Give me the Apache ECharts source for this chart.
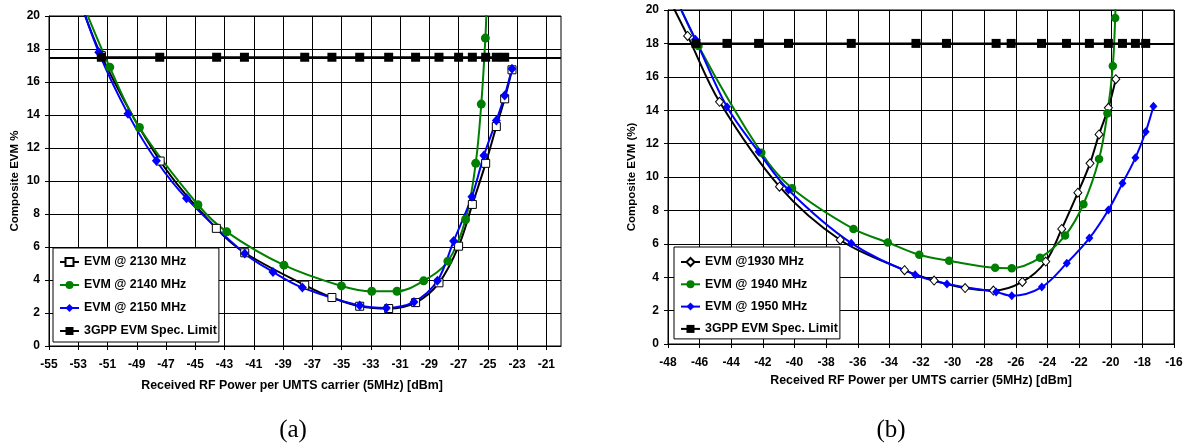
<!DOCTYPE html>
<html><head><meta charset="utf-8">
<script src="https://cdn.jsdelivr.net/npm/echarts@6/dist/echarts.min.js"></script>
<style>html,body{margin:0;padding:0;background:#fff}#c{width:1190px;height:445px}</style>
</head><body><div id="c"></div>
<script>
// ---- Chart (a) data ----
const xTicksA = [-55,-53,-51,-49,-47,-45,-43,-41,-39,-37,-35,-33,-31,-29,-27,-25,-23,-21];
const evm2130X = [-53.4,-51.42,-47.4,-43.56,-41.62,-37.52,-35.66,-33.76,-31.78,-29.94,-28.34,-27.0,-26.06,-25.15,-24.42,-23.85,-23.35];
const evm2130Y = [22.3,17.6,11.21,7.13,5.65,3.69,2.94,2.41,2.27,2.63,3.83,6.05,8.58,11.07,13.3,14.98,16.74];
const evm2140X = [-52.9,-50.85,-48.82,-44.82,-42.85,-38.94,-35.01,-32.94,-31.21,-29.39,-27.73,-26.52,-25.83,-25.45,-25.17,-25.05];
const evm2140Y = [21.2,16.9,13.24,8.56,6.92,4.9,3.64,3.32,3.32,3.95,5.14,7.67,11.07,14.66,18.66,21.5];
const evm2150X = [-53.5,-51.6,-49.6,-47.66,-45.6,-41.62,-39.69,-37.68,-33.76,-31.94,-30.05,-28.45,-27.34,-26.09,-25.27,-24.42,-23.85,-23.35];
const evm2150Y = [22.6,17.81,14.07,11.23,8.95,5.61,4.49,3.54,2.45,2.31,2.67,3.95,6.36,9.05,11.54,13.66,15.18,16.8];
const specAX = [-51.42,-47.43,-43.54,-41.64,-37.52,-35.66,-33.76,-31.78,-29.94,-28.34,-27.0,-26.06,-25.15,-24.42,-23.85];
const specALimit = 17.5;
// ---- Chart (b) data ----
const evm1930X = [-48.6,-46.76,-44.74,-40.95,-37.11,-33.04,-31.17,-29.21,-27.42,-25.59,-24.11,-23.1,-22.08,-21.31,-20.74,-20.15,-19.68];
const evm1930Y = [21.9,18.45,14.5,9.42,6.23,4.42,3.8,3.35,3.2,3.72,4.94,6.89,9.06,10.82,12.55,14.14,15.86];
const evm1940X = [-48.1,-46.07,-42.1,-40.16,-36.27,-34.1,-32.11,-30.22,-27.31,-26.26,-24.47,-22.89,-21.73,-20.74,-20.21,-19.87,-19.72,-19.68];
const evm1940Y = [22.1,17.85,11.45,9.33,6.89,6.08,5.34,4.98,4.56,4.54,5.16,6.49,8.37,11.08,13.81,16.65,19.52,21.5];
const evm1950X = [-48.2,-46.27,-44.27,-42.27,-40.38,-36.41,-32.37,-30.36,-27.25,-26.26,-24.36,-22.78,-21.35,-20.15,-19.26,-18.44,-17.79,-17.3];
const evm1950Y = [22.0,18.25,14.2,11.51,9.22,6.04,4.14,3.6,3.11,2.89,3.41,4.84,6.34,8.03,9.62,11.15,12.71,14.24];
const specBX = [-46.23,-44.27,-42.27,-40.38,-36.41,-32.32,-30.39,-27.25,-26.30,-24.38,-22.80,-21.35,-20.15,-19.26,-18.44,-17.79];
const specBLimit = 18;
const namesA = ['EVM @ 2130 MHz','EVM @ 2140 MHz','EVM @ 2150 MHz','3GPP EVM Spec. Limit'];
const namesB = ['EVM @1930 MHz','EVM @ 1940 MHz','EVM @ 1950 MHz','3GPP EVM Spec. Limit'];
const xNameText = 'Received RF Power per UMTS carrier (5MHz) [dBm]';
const yNameA = 'Composite EVM %';
const yNameB = 'Composite EVM (%)';

const zip = (xs, ys) => xs.map((x, i) => [x, ys[i]]);
const FONT = '"Liberation Sans", Arial, sans-serif';
const lab = {fontFamily: FONT, fontWeight: 'bold', fontSize: 12, color: '#000'};
const gridLine = {show: true, lineStyle: {color: '#000', width: 1}};

function xAxis(gi, min, max, opts) {
  return Object.assign({
    type: 'value', gridIndex: gi, min, max,
    name: xNameText, nameLocation: 'middle', nameGap: 34,
    nameTextStyle: {fontFamily: FONT, fontWeight: 'bold', fontSize: 12.4, color: '#000'},
    axisLine: {show: true, onZero: false, lineStyle: {color: '#000', width: 1}},
    axisTick: {show: true, length: 4, lineStyle: {color: '#000'}},
    axisLabel: Object.assign({margin: 13, hideOverlap: false}, lab),
    splitLine: gridLine
  }, opts);
}
function yAxis(gi, name, gap) {
  return {
    type: 'value', gridIndex: gi, min: 0, max: 20, interval: 2,
    name, nameLocation: 'middle', nameGap: gap,
    nameTextStyle: {fontFamily: FONT, fontWeight: 'bold', fontSize: 11.5, color: '#000'},
    axisLine: {show: true, lineStyle: {color: '#000', width: 1}},
    axisTick: {show: true, length: 4, lineStyle: {color: '#000'}},
    axisLabel: Object.assign({margin: 9, hideOverlap: false}, lab),
    splitLine: gridLine
  };
}
function lineSeries(name, gi, data, color, symbol, size, fill) {
  return {
    type: 'line', name, xAxisIndex: gi, yAxisIndex: gi, data,
    smooth: 0.35, clip: true, symbol, symbolSize: size, showAllSymbol: true,
    lineStyle: {color, width: 2},
    itemStyle: {color: fill, borderColor: color, borderWidth: fill === '#fff' ? 1 : 0},
    emphasis: {disabled: true}, animation: false
  };
}
function specSeries(gi, xs, limit) {
  return {
    type: 'line', name: '3GPP EVM Spec. Limit', xAxisIndex: gi, yAxisIndex: gi,
    data: xs.map(x => [x, limit]), symbol: 'rect', symbolSize: 9,
    lineStyle: {color: '#000', width: 2}, itemStyle: {color: '#000'}, z: 4,
    markLine: {silent: true, symbol: 'none', label: {show: false},
      lineStyle: {color: '#000', width: 2, type: 'solid'}, data: [{yAxis: limit}]},
    emphasis: {disabled: true}, animation: false
  };
}
function legend(left, top, data, gap, pad) {
  return {
    orient: 'vertical', left, top, data, selectedMode: false,
    padding: pad, itemGap: gap, itemWidth: 19, itemHeight: 10,
    backgroundColor: '#fff', borderColor: '#000', borderWidth: 1, borderRadius: 0,
    textStyle: {fontFamily: FONT, fontWeight: 'bold', fontSize: 12.4, color: '#000'}
  };
}

const chart = echarts.init(document.getElementById('c'), null, {renderer: 'canvas'});
chart.setOption({
  backgroundColor: '#fff',
  animation: false,
  grid: [
    {left: 49, top: 16, width: 512, height: 330, show: true, borderColor: '#000', borderWidth: 1, outerBoundsMode: 'none'},
    {left: 668, top: 10, width: 506, height: 334, show: true, borderColor: '#000', borderWidth: 1, outerBoundsMode: 'none'}
  ],
  xAxis: [
    xAxis(0, -55, -20, {axisLabel: Object.assign({margin: 13, hideOverlap: false, customValues: xTicksA}, lab),
                        axisTick: {show: true, length: 4, customValues: xTicksA, lineStyle: {color: '#000'}},
                        nameGap: 34,
                        nameTextStyle: {fontFamily: FONT, fontWeight: 'bold', fontSize: 12.4, color: '#000', padding: [0, 26, 0, 0]}}),
    xAxis(1, -48, -16, {interval: 2, nameGap: 31, axisLabel: Object.assign({margin: 13, hideOverlap: false}, lab)})
  ],
  yAxis: [yAxis(0, yNameA, 28), yAxis(1, yNameB, 30)],
  legend: [legend(53, 248, namesA, 11, [8, 2, 5, 6]), legend(674, 247, namesB, 10.3, [9, 2, 4, 6])],
  title: [
    {text: '(a)', left: 288, top: 413, textAlign: 'center', textStyle: {fontFamily: '"Liberation Serif", serif', fontWeight: 'normal', fontSize: 25, color: '#000'}},
    {text: '(b)', left: 886, top: 413, textAlign: 'center', textStyle: {fontFamily: '"Liberation Serif", serif', fontWeight: 'normal', fontSize: 25, color: '#000'}}
  ],
  series: [
    lineSeries(namesA[0], 0, zip(evm2130X, evm2130Y), '#000', 'rect', 8, '#fff'),
    lineSeries(namesA[1], 0, zip(evm2140X, evm2140Y), '#008000', 'circle', 9, '#008000'),
    lineSeries(namesA[2], 0, zip(evm2150X, evm2150Y), '#0000ff', 'diamond', [9, 10], '#0000ff'),
    specSeries(0, specAX, specALimit),
    lineSeries(namesB[0], 1, zip(evm1930X, evm1930Y), '#000', 'diamond', [8, 9], '#fff'),
    lineSeries(namesB[1], 1, zip(evm1940X, evm1940Y), '#008000', 'circle', 8.5, '#008000'),
    lineSeries(namesB[2], 1, zip(evm1950X, evm1950Y), '#0000ff', 'diamond', [8, 9], '#0000ff'),
    specSeries(1, specBX, specBLimit)
  ]
});
</script></body></html>
